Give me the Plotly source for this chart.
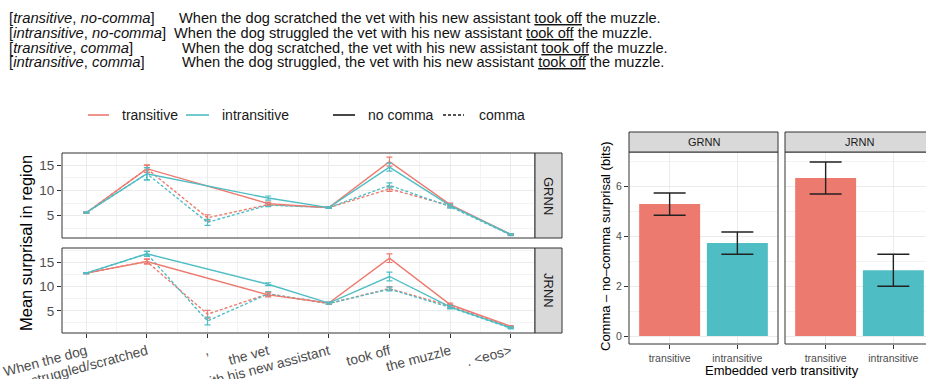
import plotly.graph_objects as go

W, H = 926, 379

# ---------------- data ----------------
regions = ["When the dog", "struggled/scratched", ",", "the vet",
           "with his new assistant", "took off", "the muzzle", ". <eos>"]
xpos = [0, 1, 2, 3, 4, 5, 6, 7]

grnn_trans_nocomma = [5.6, 14.3, None, 7.4, 6.6, 15.7, 7.2, 1.3]
grnn_trans_nocomma_err = [0.1, 0.7, None, 0.3, 0.15, 0.9, 0.3, 0.15]
grnn_intr_nocomma = [5.6, 13.3, None, 8.5, 6.6, 14.6, 7.0, 1.3]
grnn_intr_nocomma_err = [0.1, 1.2, None, 0.4, 0.15, 0.8, 0.3, 0.15]
grnn_trans_comma = [5.6, 14.3, 4.6, 7.2, 6.6, 10.3, 7.0, 1.3]
grnn_trans_comma_err = [0.1, 0.7, 0.6, 0.3, 0.15, 0.5, 0.3, 0.15]
grnn_intr_comma = [5.6, 13.3, 3.7, 7.1, 6.6, 11.0, 6.8, 1.2]
grnn_intr_comma_err = [0.1, 1.2, 0.6, 0.3, 0.15, 0.5, 0.3, 0.15]

jrnn_trans_nocomma = [12.8, 15.2, None, 8.3, 6.6, 15.9, 6.3, 1.8]
jrnn_trans_nocomma_err = [0.1, 0.5, None, 0.4, 0.2, 0.9, 0.3, 0.15]
jrnn_intr_nocomma = [12.8, 16.8, None, 10.5, 6.6, 12.1, 5.8, 1.5]
jrnn_intr_nocomma_err = [0.1, 0.5, None, 0.3, 0.2, 0.9, 0.3, 0.15]
jrnn_trans_comma = [12.8, 15.2, 4.3, 8.5, 6.5, 9.6, 6.0, 1.6]
jrnn_trans_comma_err = [0.1, 0.5, 0.8, 0.4, 0.2, 0.4, 0.3, 0.15]
jrnn_intr_comma = [12.8, 16.8, 2.9, 8.5, 6.5, 9.5, 5.7, 1.4]
jrnn_intr_comma_err = [0.1, 0.5, 0.8, 0.4, 0.2, 0.4, 0.3, 0.15]

bar_cats = ["transitive", "intransitive"]
grnn_diff = [5.28, 3.72]
grnn_diff_lo = [4.83, 3.27]
grnn_diff_hi = [5.72, 4.16]
jrnn_diff = [6.32, 2.63]
jrnn_diff_lo = [5.68, 1.99]
jrnn_diff_hi = [6.96, 3.27]

# ---------------- style ----------------
RED = "#EC7A6F"
TEAL = "#4FBDC4"
GRID = "#EBEBEB"
MINOR = "#F3F3F3"
DARK = "#333333"
TICK = "#4D4D4D"
FONT = "Liberation Sans, Arial, sans-serif"


def px(x):
    return x / W


def py(y):
    return 1 - y / H


fig = go.Figure()


def line_trace(y, err, color, dash, xa, ya):
    return go.Scatter(
        x=xpos, y=y, mode="lines", connectgaps=True,
        line=dict(color=color, width=1.4, dash=dash),
        error_y=dict(type="data", array=err, width=3, thickness=1.2, color=color),
        xaxis=xa, yaxis=ya, showlegend=False, hoverinfo="skip")


DASH = "3px,2px"
for xa, ya, series in [
    ("x", "y", [(grnn_trans_comma, grnn_trans_comma_err, RED, DASH),
                (grnn_intr_comma, grnn_intr_comma_err, TEAL, DASH),
                (grnn_trans_nocomma, grnn_trans_nocomma_err, RED, "solid"),
                (grnn_intr_nocomma, grnn_intr_nocomma_err, TEAL, "solid")]),
    ("x2", "y2", [(jrnn_trans_comma, jrnn_trans_comma_err, RED, DASH),
                  (jrnn_intr_comma, jrnn_intr_comma_err, TEAL, DASH),
                  (jrnn_trans_nocomma, jrnn_trans_nocomma_err, RED, "solid"),
                  (jrnn_intr_nocomma, jrnn_intr_nocomma_err, TEAL, "solid")]),
]:
    for y, e, c, d in series:
        fig.add_trace(line_trace(y, e, c, d, xa, ya))


def bar_trace(vals, lo, hi, xa, ya):
    return go.Bar(
        x=bar_cats, y=vals, width=0.9,
        marker=dict(color=[RED, TEAL], line=dict(width=0)),
        error_y=dict(type="data", symmetric=False,
                     array=[h - v for h, v in zip(hi, vals)],
                     arrayminus=[v - l for v, l in zip(vals, lo)],
                     width=16, thickness=1.4, color="#222222"),
        xaxis=xa, yaxis=ya, showlegend=False, hoverinfo="skip")


fig.add_trace(bar_trace(grnn_diff, grnn_diff_lo, grnn_diff_hi, "x3", "y3"))
fig.add_trace(bar_trace(jrnn_diff, jrnn_diff_lo, jrnn_diff_hi, "x4", "y4"))

# ---------------- axes ----------------
L_X0, L_X1 = 62, 535
TOP_Y0, TOP_Y1 = 153, 238
BOT_Y0, BOT_Y1 = 248, 333
B_X0, B_X1 = 629, 778
B2_X0, B2_X1 = 785, 934
B_Y0, B_Y1 = 152, 344

minor_x = dict(tickmode="array", tickvals=[0.5, 1.5, 2.5, 3.5, 4.5, 5.5, 6.5],
               showgrid=True, gridcolor=MINOR, gridwidth=0.7, ticks="")
minor_y = dict(tickmode="array", tickvals=[2.5, 7.5, 12.5, 17.5],
               showgrid=True, gridcolor=MINOR, gridwidth=0.7, ticks="")

common_x = dict(range=[-0.4, 7.4], showgrid=True, gridcolor=GRID, gridwidth=1,
                zeroline=False, showline=False, tickmode="array", tickvals=xpos,
                minor=minor_x, fixedrange=True, automargin=False)
common_y = dict(showgrid=True, gridcolor=GRID, gridwidth=1, zeroline=False,
                showline=False, tickmode="array", tickvals=[5, 10, 15],
                ticks="outside", ticklen=4, tickcolor=DARK, tickwidth=1,
                tickfont=dict(size=13.5, color=TICK, family=FONT),
                minor=minor_y, fixedrange=True, automargin=False)

fig.update_layout(
    xaxis=dict(domain=[px(L_X0), px(L_X1)], anchor="y", showticklabels=False,
               ticks="", ticktext=regions, **common_x),
    yaxis=dict(domain=[py(TOP_Y1), py(TOP_Y0)], anchor="x", range=[0.6, 17.4],
               **common_y),
    xaxis2=dict(domain=[px(L_X0), px(L_X1)], anchor="y2", showticklabels=True,
                ticktext=regions, ticks="outside", ticklen=4, tickcolor=DARK,
                tickwidth=1, tickangle=-15,
                tickfont=dict(size=13.8, color=TICK, family=FONT), **common_x),
    yaxis2=dict(domain=[py(BOT_Y1), py(BOT_Y0)], anchor="x2", range=[0.4, 18.0],
                **common_y),
    xaxis3=dict(domain=[px(B_X0), px(B_X1)], anchor="y3", type="category",
                range=[-0.6, 1.6], showgrid=True, gridcolor=GRID, zeroline=False,
                ticks="outside", ticklen=4, tickcolor=DARK, automargin=False,
                tickfont=dict(size=10.5, color=TICK, family=FONT), fixedrange=True),
    yaxis3=dict(domain=[py(B_Y1), py(B_Y0)], anchor="x3", range=[-0.32, 7.36],
                tickmode="array", tickvals=[0, 2, 4, 6], showgrid=True,
                gridcolor=GRID, zeroline=False, ticks="outside", ticklen=4,
                tickcolor=DARK, tickfont=dict(size=10.5, color=TICK, family=FONT),
                minor=dict(tickmode="array", tickvals=[1, 3, 5, 7], showgrid=True,
                           gridcolor=MINOR, gridwidth=0.7, ticks=""),
                fixedrange=True, automargin=False),
    xaxis4=dict(domain=[px(B2_X0), 1.0], anchor="y4", type="category",
                range=[-0.6, -0.6 + (W - B2_X0) / ((B2_X1 - B2_X0) / 2.2)],
                showgrid=True, gridcolor=GRID, zeroline=False, automargin=False,
                ticks="outside", ticklen=4, tickcolor=DARK,
                tickfont=dict(size=10.5, color=TICK, family=FONT), fixedrange=True),
    yaxis4=dict(domain=[py(B_Y1), py(B_Y0)], anchor="x4", range=[-0.32, 7.36],
                tickmode="array", tickvals=[0, 2, 4, 6], showticklabels=False,
                showgrid=True, gridcolor=GRID, zeroline=False, ticks="",
                minor=dict(tickmode="array", tickvals=[1, 3, 5, 7], showgrid=True,
                           gridcolor=MINOR, gridwidth=0.7, ticks=""),
                fixedrange=True, automargin=False),
)

# ---------------- panel borders & strips ----------------
shapes = []


def rect(x0, y0, x1, y1, fill=None, layer="above"):
    shapes.append(dict(type="rect", xref="paper", yref="paper",
                       x0=px(x0), x1=px(x1), y0=py(y1), y1=py(y0),
                       line=dict(color=DARK, width=1),
                       fillcolor=fill if fill else "rgba(0,0,0,0)",
                       layer=layer))


# line-plot panels + right strips
rect(L_X0, TOP_Y0, L_X1, TOP_Y1)
rect(L_X0, BOT_Y0, L_X1, BOT_Y1)
rect(L_X1, TOP_Y0, 562, TOP_Y1, fill="#D9D9D9")
rect(L_X1, BOT_Y0, 562, BOT_Y1, fill="#D9D9D9")
# bar panels + top strips
rect(B_X0, B_Y0, B_X1, B_Y1)
rect(B2_X0, B_Y0, B2_X1, B_Y1)
rect(B_X0, 132, B_X1, B_Y0, fill="#D9D9D9")
rect(B2_X0, 132, B2_X1, B_Y0, fill="#D9D9D9")

# legend symbols
LEG_Y = 115
for x0, x1, col, dash in [(88, 109, RED, "solid"), (186, 209, TEAL, "solid"),
                          (333, 355, "#1A1A1A", "solid"), (443, 464, "#1A1A1A", DASH)]:
    shapes.append(dict(type="line", xref="paper", yref="paper",
                       x0=px(x0), x1=px(x1), y0=py(LEG_Y), y1=py(LEG_Y),
                       line=dict(color=col, width=1.6, dash=dash)))

fig.update_layout(shapes=shapes)

# ---------------- annotations ----------------
ann = []


def text(x, y, s, size=13, color="#000000", xanchor="left", angle=0, yanchor="middle"):
    ann.append(dict(xref="paper", yref="paper", x=px(x), y=py(y), text=s,
                    showarrow=False, xanchor=xanchor, yanchor=yanchor,
                    textangle=angle, font=dict(size=size, color=color, family=FONT)))


# legend labels
text(120, LEG_Y, "transitive", size=14, color="#1A1A1A")
text(220, LEG_Y, "intransitive", size=14, color="#1A1A1A")
text(366, LEG_Y, "no comma", size=14, color="#1A1A1A")
text(477, LEG_Y, "comma", size=14, color="#1A1A1A")

# strip labels
text((L_X1 + 562) / 2, (TOP_Y0 + TOP_Y1) / 2, "GRNN", size=13, color="#1A1A1A",
     xanchor="center", angle=90)
text((L_X1 + 562) / 2, (BOT_Y0 + BOT_Y1) / 2, "JRNN", size=13, color="#1A1A1A",
     xanchor="center", angle=90)
text((B_X0 + B_X1) / 2, 142, "GRNN", size=11, color="#1A1A1A", xanchor="center")
text((B2_X0 + B2_X1) / 2, 142, "JRNN", size=11, color="#1A1A1A", xanchor="center")

# axis titles
text(26, (TOP_Y0 + BOT_Y1) / 2, "Mean surprisal in region", size=16.5,
     xanchor="center", angle=-90)
text(605, (B_Y0 + B_Y1) / 2 - 2, "Comma – no–comma surprisal (bits)", size=13,
     xanchor="center", angle=-90)
text((B_X0 + B2_X1) / 2, 370, "Embedded verb transitivity", size=13,
     xanchor="center")

# example sentences
U = '<span style="text-decoration:underline">took off</span>'
rows = [
    (18.5, "[<i>transitive</i>, <i>no-comma</i>]", 177,
     "When the dog scratched the vet with his new assistant " + U + " the muzzle."),
    (33, "[<i>intransitive</i>, <i>no-comma</i>]", 172,
     "When the dog struggled the vet with his new assistant " + U + " the muzzle."),
    (47.5, "[<i>transitive</i>, <i>comma</i>]", 180,
     "When the dog scratched, the vet with his new assistant " + U + " the muzzle."),
    (62, "[<i>intransitive</i>, <i>comma</i>]", 180,
     "When the dog struggled, the vet with his new assistant " + U + " the muzzle."),
]
for y, lab, sx, sent in rows:
    text(7, y, lab, size=14.8, color="#111111")
    text(sx, y, sent, size=14.6, color="#111111")

fig.update_layout(annotations=ann)

fig.update_layout(
    width=W, height=H, margin=dict(l=0, r=0, t=0, b=0, autoexpand=False),
    paper_bgcolor="white", plot_bgcolor="white",
    font=dict(family=FONT), showlegend=False, bargap=0.1,
)

fig.write_html("out.html", config={"displayModeBar": False},
               post_script="document.body.style.margin='0';"
                           "document.body.style.padding='0';"
                           "document.body.style.overflow='hidden';")
